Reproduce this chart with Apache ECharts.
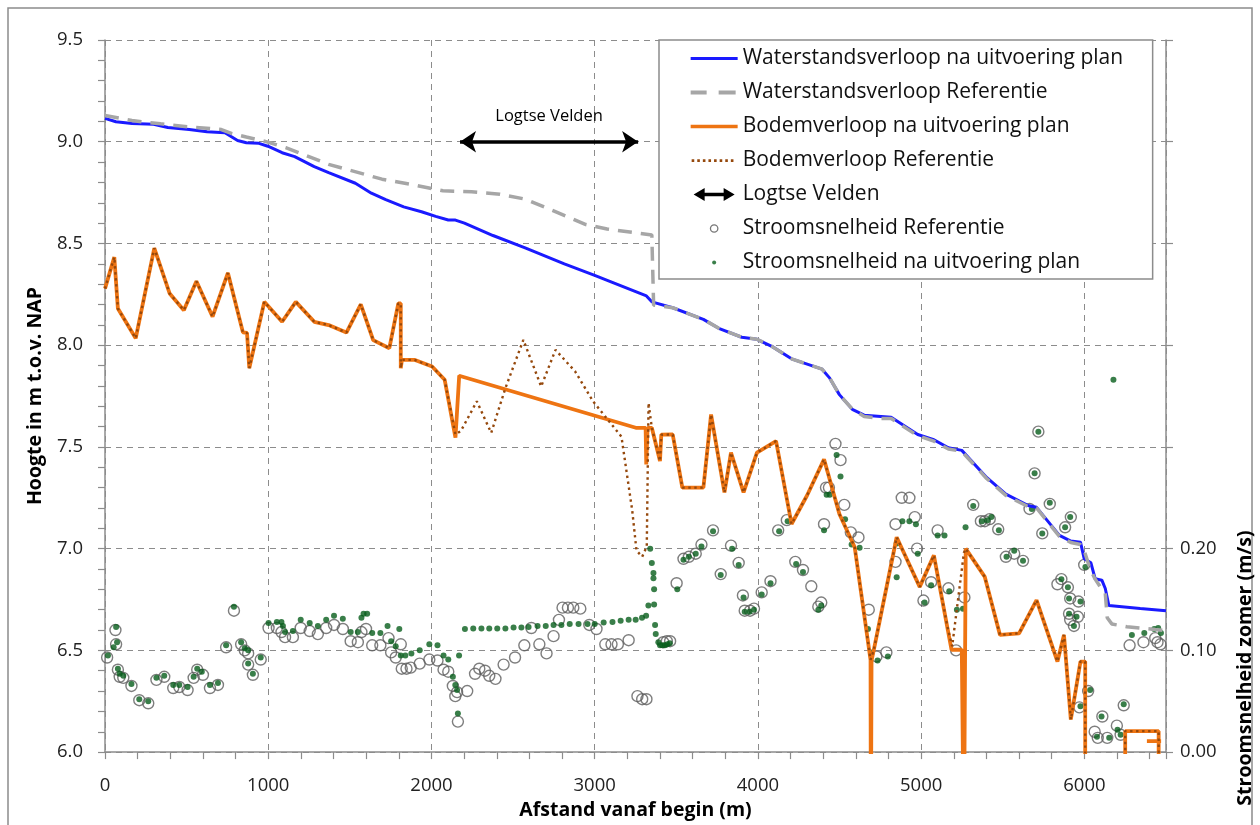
<!DOCTYPE html>
<html>
<head>
<meta charset="utf-8">
<script src="https://cdn.jsdelivr.net/npm/echarts@6/dist/echarts.min.js"></script>
<style>
  html, body { margin: 0; padding: 0; background: #fff; }
  #chart { width: 1260px; height: 825px; }
</style>
</head>
<body>
<div id="chart"></div>
<script>
// afstand (m), hoogte (m NAP)
var waterPlan = [[0,9.115],[67,9.098],[166,9.09],[298,9.086],[385,9.07],[516,9.06],[625,9.049],[735,9.044],[812,9.006],[866,8.995],[943,8.992],[998,8.978],[1085,8.946],[1162,8.927],[1282,8.878],[1370,8.848],[1534,8.796],[1632,8.747],[1720,8.715],[1830,8.68],[1939,8.656],[2026,8.633],[2103,8.615],[2147,8.615],[2202,8.6],[2377,8.539],[2574,8.478],[2814,8.4],[3000,8.343],[3077,8.319],[3317,8.242],[3350,8.213],[3361,8.205],[3478,8.184],[3666,8.127],[3760,8.083],[3901,8.039],[3994,8.029],[4088,7.993],[4206,7.933],[4393,7.882],[4440,7.838],[4499,7.757],[4581,7.683],[4651,7.656],[4816,7.646],[4979,7.561],[5073,7.537],[5167,7.496],[5249,7.483],[5401,7.35],[5519,7.268],[5659,7.211],[5707,7.203],[5847,7.065],[5917,7.037],[5976,7.032],[5999,6.95],[6040,6.93],[6066,6.852],[6107,6.845],[6128,6.804],[6150,6.72],[6342,6.706],[6500,6.695]];

var waterRef = [[0,9.129],[165,9.104],[341,9.088],[515,9.073],[713,9.06],[778,9.04],[866,9.023],[976,9.003],[1107,8.971],[1370,8.889],[1697,8.816],[1873,8.791],[2070,8.759],[2245,8.754],[2420,8.742],[2574,8.718],[2770,8.653],[2946,8.593],[3076,8.571],[3252,8.552],[3350,8.542],[3361,8.197],[3478,8.184],[3666,8.127],[3760,8.083],[3901,8.039],[3994,8.029],[4088,7.993],[4206,7.933],[4393,7.882],[4440,7.838],[4499,7.757],[4581,7.683],[4651,7.65],[4740,7.64],[4816,7.64],[4979,7.555],[5073,7.53],[5167,7.49],[5249,7.478],[5401,7.345],[5519,7.262],[5659,7.205],[5707,7.2],[5847,7.06],[5917,7.03],[5976,7.02],[5999,6.99],[6035,6.9],[6066,6.85],[6107,6.8],[6128,6.78],[6140,6.66],[6168,6.63],[6260,6.616],[6342,6.61],[6500,6.597]];

var bedPlan = [[0,8.278],[57,8.433],[79,8.18],[188,8.034],[302,8.477],[396,8.254],[483,8.172],[560,8.314],[659,8.14],[753,8.355],[845,8.063],[870,8.06],[884,7.887],[976,8.213],[1085,8.115],[1169,8.213],[1282,8.115],[1370,8.099],[1479,8.062],[1567,8.201],[1643,8.025],[1742,7.985],[1797,8.205],[1812,8.205],[1812,7.887],[1819,7.928],[1895,7.928],[2004,7.895],[2081,7.83],[2147,7.545],[2170,7.85],[3252,7.594],[3312,7.594],[3316,7.414],[3324,7.594],[3350,7.594],[3385,7.48],[3400,7.43],[3408,7.56],[3478,7.561],[3537,7.3],[3666,7.3],[3713,7.659],[3795,7.276],[3835,7.472],[3912,7.276],[3994,7.472],[4111,7.529],[4206,7.121],[4300,7.26],[4405,7.439],[4499,7.17],[4593,7.007],[4690,6.453],[4692,5.5],[4694,5.5],[4696,6.45],[4710,6.503],[4850,7.056],[4991,6.812],[5078,6.967],[5186,6.503],[5249,6.503],[5262,5.5],[5266,5.5],[5273,7.0],[5390,6.861],[5483,6.576],[5600,6.584],[5707,6.747],[5835,6.445],[5875,6.576],[5917,6.16],[5976,6.445],[6005,6.445],[6005,5.5],[6250,5.5],[6250,6.103],[6455,6.103],[6455,5.5],[6420,null],[6383,6.054],[6470,6.054]];

var bedRef = [[0,8.278],[57,8.433],[79,8.18],[188,8.034],[302,8.477],[396,8.254],[483,8.172],[560,8.314],[659,8.14],[753,8.355],[845,8.063],[870,8.06],[884,7.887],[976,8.213],[1085,8.115],[1169,8.213],[1282,8.115],[1370,8.099],[1479,8.062],[1567,8.201],[1643,8.025],[1742,7.985],[1797,8.205],[1812,8.205],[1812,7.887],[1819,7.928],[1895,7.928],[2004,7.895],[2081,7.83],[2147,7.561],[2180,7.578],[2278,7.724],[2366,7.569],[2453,7.789],[2563,8.026],[2672,7.797],[2760,7.977],[2880,7.871],[2990,7.724],[3164,7.55],[3230,7.187],[3256,6.991],[3291,6.96],[3319,7.01],[3330,7.716],[3340,7.716],[3350,7.594],[3385,7.48],[3400,7.43],[3408,7.56],[3478,7.561],[3537,7.3],[3666,7.3],[3713,7.659],[3795,7.276],[3835,7.472],[3912,7.276],[3994,7.472],[4111,7.529],[4206,7.121],[4300,7.26],[4405,7.439],[4499,7.17],[4593,7.007],[4690,6.453],[4710,6.503],[4850,7.056],[4991,6.812],[5078,6.967],[5160,6.62],[5190,6.52],[5262,6.98],[5273,7.0],[5390,6.861],[5483,6.576],[5600,6.584],[5707,6.747],[5835,6.445],[5875,6.576],[5917,6.16],[5976,6.445],[6005,6.445],[6005,5.5],[6250,5.5],[6250,6.103],[6455,6.103],[6455,5.5]];

// afstand (m), stroomsnelheid (m/s)
var speedRef = [[13,0.093],[64,0.12],[68,0.106],[79,0.081],[90,0.074],[112,0.073],[162,0.065],[210,0.051],[265,0.048],[315,0.071],[363,0.074],[418,0.063],[455,0.064],[506,0.061],[543,0.073],[565,0.081],[600,0.076],[643,0.063],[692,0.066],[742,0.103],[790,0.139],[834,0.106],[856,0.1],[877,0.097],[877,0.086],[906,0.076],[954,0.091],[1002,0.122],[1053,0.122],[1081,0.118],[1103,0.113],[1151,0.113],[1199,0.122],[1254,0.119],[1304,0.116],[1355,0.122],[1403,0.125],[1457,0.121],[1505,0.109],[1549,0.108],[1571,0.118],[1599,0.121],[1637,0.105],[1687,0.105],[1737,0.112],[1753,0.098],[1781,0.093],[1812,0.106],[1818,0.082],[1847,0.082],[1873,0.083],[1928,0.087],[1987,0.091],[2037,0.09],[2074,0.081],[2103,0.079],[2131,0.065],[2146,0.055],[2157,0.059],[2162,0.03],[2219,0.06],[2267,0.077],[2293,0.082],[2328,0.08],[2354,0.075],[2392,0.072],[2442,0.086],[2512,0.093],[2569,0.105],[2612,0.122],[2661,0.106],[2705,0.097],[2748,0.114],[2781,0.13],[2803,0.142],[2836,0.142],[2869,0.142],[2912,0.141],[2967,0.125],[3011,0.121],[3065,0.106],[3103,0.106],[3142,0.106],[3208,0.11],[3262,0.055],[3291,0.052],[3317,0.052],[3420,0.108],[3442,0.109],[3462,0.109],[3502,0.166],[3544,0.19],[3577,0.192],[3619,0.195],[3654,0.204],[3725,0.218],[3772,0.175],[3835,0.203],[3882,0.186],[3908,0.154],[3919,0.139],[3952,0.139],[3976,0.141],[4023,0.157],[4077,0.168],[4124,0.218],[4177,0.228],[4229,0.187],[4276,0.179],[4327,0.163],[4370,0.143],[4388,0.147],[4405,0.224],[4417,0.26],[4435,0.26],[4475,0.303],[4506,0.287],[4529,0.243],[4569,0.216],[4616,0.211],[4679,0.14],[4726,0.094],[4787,0.098],[4843,0.224],[4843,0.187],[4881,0.25],[4928,0.25],[4961,0.231],[4975,0.2],[5014,0.149],[5061,0.167],[5101,0.218],[5167,0.161],[5214,0.1],[5265,0.152],[5319,0.243],[5366,0.227],[5390,0.227],[5420,0.229],[5472,0.219],[5519,0.192],[5570,0.195],[5624,0.188],[5664,0.239],[5695,0.274],[5718,0.315],[5742,0.215],[5788,0.244],[5835,0.165],[5859,0.17],[5882,0.221],[5899,0.162],[5913,0.151],[5917,0.231],[5906,0.136],[5913,0.13],[5936,0.124],[5960,0.133],[5964,0.148],[5969,0.044],[5999,0.184],[6023,0.06],[6063,0.02],[6082,0.014],[6110,0.035],[6140,0.014],[6199,0.026],[6222,0.017],[6241,0.046],[6277,0.105],[6362,0.108],[6434,0.112],[6448,0.108],[6466,0.106]];

var speedPlan = [[18,0.095],[53,0.103],[68,0.123],[74,0.108],[79,0.082],[90,0.077],[112,0.075],[162,0.067],[210,0.052],[265,0.05],[315,0.073],[363,0.075],[418,0.066],[455,0.066],[506,0.064],[543,0.074],[565,0.082],[593,0.079],[643,0.066],[692,0.068],[742,0.105],[790,0.143],[834,0.108],[856,0.102],[877,0.1],[877,0.087],[906,0.077],[954,0.093],[1002,0.127],[1053,0.128],[1081,0.128],[1090,0.124],[1103,0.118],[1151,0.119],[1199,0.13],[1254,0.127],[1304,0.124],[1355,0.13],[1403,0.134],[1457,0.131],[1505,0.118],[1549,0.118],[1571,0.132],[1584,0.136],[1606,0.136],[1637,0.117],[1687,0.117],[1731,0.124],[1753,0.109],[1781,0.104],[1803,0.121],[1812,0.095],[1840,0.095],[1877,0.097],[1928,0.1],[1987,0.106],[2037,0.105],[2074,0.095],[2103,0.091],[2131,0.074],[2146,0.066],[2157,0.061],[2162,0.038],[2169,0.095],[2205,0.121],[2256,0.1215],[2306,0.1215],[2354,0.1215],[2403,0.1215],[2453,0.1215],[2503,0.1225],[2551,0.1225],[2595,0.123],[2650,0.124],[2700,0.124],[2748,0.125],[2796,0.125],[2847,0.126],[2901,0.126],[2956,0.126],[3000,0.126],[3055,0.1275],[3109,0.128],[3159,0.129],[3208,0.13],[3251,0.13],[3290,0.132],[3315,0.134],[3329,0.144],[3340,0.2],[3350,0.186],[3360,0.176],[3360,0.171],[3364,0.16],[3364,0.145],[3370,0.125],[3374,0.116],[3390,0.108],[3400,0.105],[3415,0.105],[3430,0.105],[3445,0.106],[3460,0.107],[3506,0.16],[3544,0.189],[3577,0.192],[3619,0.195],[3654,0.202],[3725,0.217],[3772,0.174],[3842,0.2],[3882,0.184],[3912,0.152],[3919,0.138],[3948,0.138],[3976,0.14],[4023,0.155],[4077,0.166],[4130,0.217],[4182,0.227],[4234,0.185],[4276,0.177],[4370,0.14],[4388,0.144],[4405,0.218],[4421,0.253],[4440,0.253],[4482,0.292],[4506,0.271],[4534,0.229],[4574,0.204],[4623,0.201],[4674,0.121],[4698,0.098],[4733,0.09],[4796,0.094],[4850,0.172],[4850,0.205],[4885,0.227],[4928,0.227],[4968,0.224],[4979,0.195],[5021,0.147],[5061,0.164],[5101,0.213],[5143,0.213],[5172,0.158],[5219,0.14],[5256,0.141],[5272,0.221],[5319,0.242],[5373,0.227],[5406,0.228],[5430,0.231],[5476,0.218],[5523,0.192],[5570,0.198],[5624,0.188],[5678,0.239],[5695,0.274],[5718,0.315],[5742,0.215],[5788,0.245],[5859,0.17],[5882,0.221],[5913,0.231],[5899,0.162],[5906,0.151],[5906,0.136],[5952,0.133],[5936,0.124],[5976,0.148],[5976,0.045],[6006,0.182],[6035,0.061],[6077,0.015],[6105,0.035],[6152,0.014],[6178,0.366],[6203,0.022],[6222,0.017],[6241,0.047],[6291,0.115],[6367,0.117],[6428,0.121],[6452,0.122],[6469,0.117]];

var logtse = [2175, 3266, 9.0];   // begin, eind, hoogte van de pijl
var xTicks = [0, 6500, 1000, 5];
var yTicks = [6.0, 9.5, 0.5, 5];
var vTicks = [0, 0.7, 0.1, 0.2];  // min, max, stap, laatste label

var FONT = 'Open Sans';
var GRID = '#8c8c8c';

// legend icons (box 47 x 14)
var box = 'M0,0L0,0M47,14L47,14';
var dots = '';
for (var i = 0; i < 8; i++) dots += 'M' + (1 + i * 5.6) + ',5.8H' + (3.6 + i * 5.6) + 'V8.4H' + (1 + i * 5.6) + 'Z';
var icons = {
  blue: 'path://' + box + 'M0,5.5H47V8.5H0Z',
  grey: 'path://' + box + 'M0,5H16V9H0Z M28,5H45V9H28Z',
  orange: 'path://' + box + 'M0,5.2H47V8.8H0Z',
  dotted: 'path://' + box + dots,
  arrow: 'path://' + box + 'M3,7L14,0.5V5.2H33V0.5L44,7L33,13.5V8.8H14V13.5Z',
  ring: 'path://' + box + 'M19.8,7A3.7,3.7 0 1 1 27.2,7A3.7,3.7 0 1 1 19.8,7Z',
  dot: 'path://' + box + 'M21.5,7A2,2 0 1 1 25.5,7A2,2 0 1 1 21.5,7Z'
};

var tickStyle = { color: GRID, width: 1.2 };

var chart = echarts.init(document.getElementById('chart'));
var option = {
  backgroundColor: '#fff',
  animation: false,
  textStyle: { fontFamily: FONT },
  grid: { left: 105, right: 94, top: 40, bottom: 69 },
  graphic: [
    { type: 'rect', shape: { x: 8, y: 8, width: 1244, height: 840 }, style: { fill: 'none', stroke: '#8c8c8c', lineWidth: 1.5 }, silent: true, z: -10 },
    { type: 'text', x: 1245, y: 668, rotation: Math.PI / 2,
      style: { text: 'Stroomsnelheid zomer (m/s)', fontSize: 19.5, fontWeight: 'bold', fontFamily: FONT, fill: '#000', align: 'center', verticalAlign: 'middle' } }
  ],
  legend: {
    orient: 'vertical', left: 659, top: 40,
    padding: [8, 28, 6, 31],
    itemWidth: 47, itemHeight: 14, itemGap: 13,
    borderColor: GRID, borderWidth: 1.5, backgroundColor: '#fff',
    textStyle: { fontSize: 21, color: '#111', fontFamily: FONT, lineHeight: 20, width: 382 },
    data: [
      { name: 'Waterstandsverloop na uitvoering plan', icon: icons.blue, itemStyle: { color: '#1a1aff', borderWidth: 0 } },
      { name: 'Waterstandsverloop Referentie', icon: icons.grey, itemStyle: { color: '#a6a6a6', borderWidth: 0 } },
      { name: 'Bodemverloop na uitvoering plan', icon: icons.orange, itemStyle: { color: '#ee7412', borderWidth: 0 } },
      { name: 'Bodemverloop Referentie', icon: icons.dotted, itemStyle: { color: '#95480c', borderWidth: 0 } },
      { name: 'Logtse Velden', icon: icons.arrow, itemStyle: { color: '#000', borderWidth: 0 } },
      { name: 'Stroomsnelheid Referentie', icon: icons.ring, itemStyle: { color: 'rgba(255,255,255,0)', borderColor: '#555', borderWidth: 1.3 } },
      { name: 'Stroomsnelheid na uitvoering plan', icon: icons.dot, itemStyle: { color: '#075e1c', borderWidth: 0 } }
    ]
  },
  xAxis: {
    type: 'value', min: xTicks[0], max: xTicks[1], interval: xTicks[2],
    name: 'Afstand vanaf begin (m)', nameLocation: 'middle', nameGap: 44,
    nameTextStyle: { fontSize: 19.5, fontWeight: 'bold', color: '#000', fontFamily: FONT },
    axisLine: { show: true, onZero: false, lineStyle: { color: GRID, width: 1.5 } },
    axisTick: { show: true, length: 7, lineStyle: tickStyle },
    minorTick: { show: true, splitNumber: xTicks[3], length: 7, lineStyle: tickStyle },
    axisLabel: { fontSize: 18.5, color: '#222', margin: 24, showMaxLabel: false, fontFamily: FONT,
      formatter: function (v) { return String(v); } },
    splitLine: { show: true, lineStyle: { color: GRID, width: 1, type: [6, 5] } }
  },
  yAxis: [{
    type: 'value', min: yTicks[0], max: yTicks[1], interval: yTicks[2],
    name: 'Hoogte in m t.o.v. NAP', nameLocation: 'middle', nameGap: 60,
    nameTextStyle: { fontSize: 19.5, fontWeight: 'bold', color: '#000', fontFamily: FONT },
    axisLine: { show: true, lineStyle: { color: GRID, width: 1.5 } },
    axisTick: { show: true, length: 7, lineStyle: tickStyle },
    minorTick: { show: true, splitNumber: yTicks[3], length: 7, lineStyle: tickStyle },
    axisLabel: { fontSize: 18.5, color: '#222', margin: 22, fontFamily: FONT, formatter: function (v) { return v.toFixed(1); } },
    splitLine: { show: true, lineStyle: { color: GRID, width: 1, type: [6, 5] } }
  }, {
    type: 'value', position: 'right', min: vTicks[0], max: vTicks[1], interval: vTicks[2],
    axisLine: { show: true, lineStyle: { color: GRID, width: 1.5 } },
    axisTick: { show: true, length: 7, lineStyle: tickStyle },
    axisLabel: { fontSize: 18.5, color: '#222', margin: 14, fontFamily: FONT,
      formatter: function (v) { return v <= vTicks[3] + 1e-9 ? v.toFixed(2) : ''; } },
    splitLine: { show: false }
  }],
  series: [
    { name: 'Waterstandsverloop na uitvoering plan', type: 'line', data: waterPlan, symbol: 'none',
      lineStyle: { color: '#1a1aff', width: 3 }, itemStyle: { color: '#1a1aff' } },
    { name: 'Waterstandsverloop Referentie', type: 'line', data: waterRef, symbol: 'none',
      lineStyle: { color: '#a6a6a6', width: 3.5, type: [14, 9] }, itemStyle: { color: '#a6a6a6' } },
    { name: 'Bodemverloop na uitvoering plan', type: 'line', data: bedPlan, symbol: 'none', connectNulls: false,
      lineStyle: { color: '#ee7412', width: 3.8 }, itemStyle: { color: '#ee7412' } },
    { name: 'Bodemverloop Referentie', type: 'line', data: bedRef, symbol: 'none',
      lineStyle: { color: '#95480c', width: 2.4, type: [2.4, 3.6] }, itemStyle: { color: '#95480c' } },
    { name: 'Logtse Velden', type: 'line', data: [], symbol: 'none', itemStyle: { color: '#000' },
      markLine: {
        silent: true, symbol: ['arrow', 'arrow'], symbolSize: 16,
        lineStyle: { color: '#000', width: 3.5, type: 'solid' },
        label: { show: true, position: 'insideMiddleTop', distance: 17, formatter: 'Logtse Velden', color: '#000', fontSize: 16.5, fontFamily: FONT },
        data: [[{ coord: [logtse[0], logtse[2]] }, { coord: [logtse[1], logtse[2]] }]]
      } },
    { name: 'Stroomsnelheid Referentie', type: 'scatter', yAxisIndex: 1, data: speedRef, symbol: 'circle', symbolSize: 11,
      itemStyle: { color: 'rgba(255,255,255,0)', borderColor: '#5e5e5e', borderWidth: 1.4 } },
    { name: 'Stroomsnelheid na uitvoering plan', type: 'scatter', yAxisIndex: 1, data: speedPlan, symbol: 'circle', symbolSize: 6,
      itemStyle: { color: '#075e1c' } }
  ]
};
chart.setOption(option);
</script>
</body>
</html>
